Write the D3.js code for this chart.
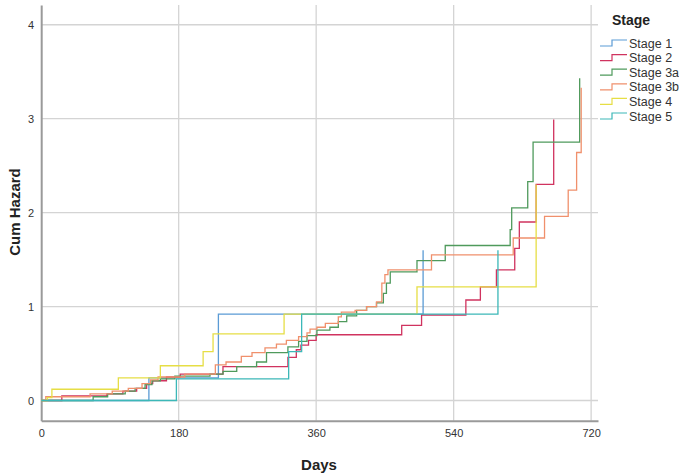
<!DOCTYPE html>
<html>
<head>
<meta charset="utf-8">
<script src="https://cdn.jsdelivr.net/npm/d3@7"></script>
<style>
  body { margin: 0; background: #fff; }
  svg { display: block; font-family: "Liberation Sans", Arial, sans-serif; }
</style>
</head>
<body>
<svg id="chart" width="679" height="473"></svg>
<script>
// cumulative hazard step points: [day, cum hazard]
const stage1 = [[0,0],[141,0.24],[232,0.92],[500,1.60]];
const stage2 = [[0,0],[27,0.05],[86,0.07],[107,0.10],[125,0.13],[138,0.18],[146,0.21],[164,0.25],[182,0.28],
  [238,0.36],[323,0.46],[334,0.54],[340,0.59],[350,0.64],[360,0.70],[472,0.80],[498,0.91],[556,1.07],
  [575,1.21],[596,1.39],[620,1.62],[626,1.90],[648,2.30],[671,2.99]];
const stage3a = [[0,0],[68,0.04],[87,0.07],[110,0.10],[123,0.13],[136,0.17],[145,0.21],[156,0.23],[175,0.26],
  [221,0.28],[238,0.31],[256,0.36],[282,0.41],[295,0.51],[323,0.57],[337,0.63],[348,0.69],[361,0.75],
  [378,0.78],[389,0.84],[400,0.90],[413,0.96],[426,1.00],[439,1.04],[448,1.14],[452,1.25],[457,1.37],
  [492,1.49],[529,1.65],[614,1.82],[616,2.05],[637,2.33],[644,2.75],[705,3.43]];
const stage3b = [[0,0],[6,0.04],[64,0.07],[93,0.10],[114,0.13],[132,0.18],[143,0.22],[153,0.25],[188,0.28],
  [228,0.38],[242,0.41],[262,0.47],[276,0.51],[293,0.56],[308,0.60],[321,0.64],[337,0.68],[348,0.72],
  [352,0.76],[361,0.78],[372,0.82],[389,0.89],[393,0.94],[411,0.96],[426,1.00],[439,1.05],[446,1.25],
  [450,1.34],[454,1.39],[511,1.55],[618,1.73],[659,1.96],[690,2.24],[701,2.64],[707,3.33]];
const stage4 = [[0,0],[8,0.03],[14,0.12],[101,0.24],[156,0.37],[212,0.52],[225,0.71],[318,0.92],[492,1.21],[648,2.30]];
const stage5 = [[0,0],[177,0.23],[324,0.52],[341,0.92],[598,1.60]];

const stageNames = ["Stage 1", "Stage 2", "Stage 3a", "Stage 3b", "Stage 4", "Stage 5"];
const stageColors = ["#5b9bd5", "#d0335f", "#4f9a5c", "#f0906c", "#e6de45", "#3cb8b8"];
const stageCurves = [stage1, stage2, stage3a, stage3b, stage4, stage5];

const xTicks = [0, 180, 360, 540, 720];
const yTicks = [0, 1, 2, 3, 4];

const svg = d3.select("#chart");

const xScale = d3.scaleLinear().domain([0, 729]).range([41.2, 598]);
const yScale = d3.scaleLinear().domain([-0.215, 4.21]).range([420.7, 5]);

// grid
svg.append("g")
  .selectAll("line")
  .data(yTicks)
  .join("line")
    .attr("x1", xScale.range()[0])
    .attr("x2", xScale.range()[1])
    .attr("y1", d => yScale(d))
    .attr("y2", d => yScale(d))
    .attr("stroke", "#d4d4d4")
    .attr("stroke-width", 1.3);

svg.append("g")
  .selectAll("line")
  .data(xTicks.filter(d => d > 0))
  .join("line")
    .attr("x1", d => xScale(d))
    .attr("x2", d => xScale(d))
    .attr("y1", yScale.range()[1])
    .attr("y2", yScale.range()[0])
    .attr("stroke", "#d4d4d4")
    .attr("stroke-width", 1.3);

// axes
const xAxis = d3.axisBottom(xScale).tickValues(xTicks).tickSize(0).tickPadding(9);
const yAxis = d3.axisLeft(yScale).tickValues(yTicks).tickFormat(d3.format("d")).tickSize(0).tickPadding(7);

const gx = svg.append("g")
  .attr("transform", `translate(0, ${yScale.range()[0]})`)
  .call(xAxis);
const gy = svg.append("g")
  .attr("transform", `translate(${xScale.range()[0]}, 0)`)
  .call(yAxis);

[gx, gy].forEach(g => {
  g.select(".domain").attr("stroke", "#9a9a9a").attr("stroke-width", 2);
  g.selectAll("text").attr("fill", "#333").style("font-size", "11px");
});

// curves
const line = d3.line()
  .x(d => xScale(d[0]))
  .y(d => yScale(d[1]))
  .curve(d3.curveStepAfter);

svg.append("g")
  .selectAll("path")
  .data(stageCurves)
  .join("path")
    .attr("d", line)
    .attr("fill", "none")
    .attr("stroke", (d, i) => stageColors[i])
    .attr("stroke-width", 1.3);

// axis titles
svg.append("text")
  .attr("x", 319)
  .attr("y", 470)
  .attr("text-anchor", "middle")
  .style("font-size", "15px")
  .style("font-weight", "bold")
  .attr("fill", "#222")
  .text("Days");

svg.append("text")
  .attr("transform", "translate(20, 212) rotate(-90)")
  .attr("text-anchor", "middle")
  .style("font-size", "15px")
  .style("font-weight", "bold")
  .attr("fill", "#222")
  .text("Cum Hazard");

// legend
const legend = svg.append("g").attr("transform", "translate(600, 0)");

legend.append("text")
  .attr("x", 31)
  .attr("y", 25)
  .attr("text-anchor", "middle")
  .style("font-size", "14px")
  .style("font-weight", "bold")
  .attr("fill", "#222")
  .text("Stage");

const items = legend.selectAll(".item")
  .data(stageNames)
  .join("g")
    .attr("class", "item")
    .attr("transform", (d, i) => `translate(0, ${43 + i * 14.6})`);

items.append("path")
  .attr("d", "M0,3H12V-3H27")
  .attr("fill", "none")
  .attr("stroke", (d, i) => stageColors[i])
  .attr("stroke-width", 1.2);

items.append("text")
  .attr("x", 29)
  .attr("y", 4.5)
  .style("font-size", "12.5px")
  .attr("fill", "#333")
  .text(d => d);
</script>
</body>
</html>
